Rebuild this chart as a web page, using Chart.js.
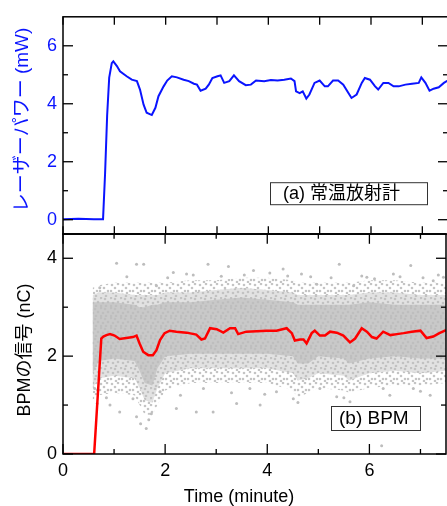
<!DOCTYPE html>
<html>
<head>
<meta charset="utf-8">
<script src="https://cdn.jsdelivr.net/npm/chart.js@4.4.1/dist/chart.umd.min.js"></script>
<style>
html, body { margin: 0; padding: 0; background: #fff; overflow: hidden; width: 447px; height: 506px; }
.panel { position: absolute; left: 0; width: 450px; }
#topPanel { top: 0; height: 251px; }
#botPanel { top: 217px; height: 289px; }
</style>
</head>
<body>
<div class="panel" id="topPanel"><canvas id="laserChart"></canvas></div>
<div class="panel" id="botPanel"><canvas id="bpmChart"></canvas></div>
<script>
// (a) レーザーパワー
const laserT = [0, 0.3, 0.6, 0.78, 0.82, 0.86, 0.9, 0.95, 0.98, 1.05, 1.11, 1.24, 1.34, 1.44, 1.5, 1.57, 1.63, 1.73, 1.8, 1.86, 1.96, 2.03, 2.12, 2.22, 2.35, 2.45, 2.55, 2.61, 2.68, 2.78, 2.84, 2.91, 3.01, 3.07, 3.14, 3.24, 3.33, 3.43, 3.56, 3.66, 3.76, 3.92, 4.05, 4.18, 4.31, 4.44, 4.51, 4.54, 4.61, 4.67, 4.74, 4.8, 4.9, 5.0, 5.1, 5.16, 5.26, 5.36, 5.46, 5.56, 5.62, 5.72, 5.82, 5.88, 5.98, 6.08, 6.14, 6.24, 6.34, 6.44, 6.54, 6.67, 6.8, 6.93, 6.98, 7.06, 7.14, 7.22, 7.32, 7.42, 7.52];
const laserP = [0.02, 0.03, 0.02, 0.02, 1.6, 3.6, 4.9, 5.4, 5.46, 5.3, 5.12, 4.95, 4.83, 4.78, 4.49, 3.97, 3.69, 3.61, 3.86, 4.26, 4.6, 4.8, 4.95, 4.91, 4.83, 4.78, 4.69, 4.66, 4.45, 4.52, 4.66, 4.89, 4.95, 4.98, 4.72, 4.78, 4.98, 4.78, 4.64, 4.66, 4.8, 4.78, 4.82, 4.8, 4.83, 4.87, 4.78, 4.43, 4.37, 4.43, 4.18, 4.32, 4.72, 4.8, 4.6, 4.6, 4.8, 4.8, 4.66, 4.37, 4.2, 4.32, 4.72, 4.89, 4.83, 4.6, 4.49, 4.72, 4.72, 4.6, 4.6, 4.66, 4.69, 4.72, 4.91, 4.72, 4.45, 4.52, 4.57, 4.72, 4.83];

// (b) BPMの信号: 移動平均
const bpmT = [0, 0.3, 0.61, 0.75, 0.79, 0.85, 0.92, 1.01, 1.11, 1.24, 1.37, 1.44, 1.5, 1.57, 1.67, 1.76, 1.83, 1.9, 1.99, 2.09, 2.22, 2.42, 2.61, 2.71, 2.78, 2.88, 3.01, 3.14, 3.27, 3.37, 3.43, 3.59, 3.79, 3.99, 4.18, 4.38, 4.48, 4.54, 4.64, 4.71, 4.77, 4.87, 4.93, 5.03, 5.13, 5.23, 5.36, 5.49, 5.62, 5.72, 5.85, 5.95, 6.05, 6.14, 6.27, 6.41, 6.54, 6.67, 6.83, 7.0, 7.12, 7.25, 7.37, 7.5];
const bpmQ = [0, 0, 0, 2.36, 2.4, 2.43, 2.45, 2.42, 2.35, 2.37, 2.39, 2.42, 2.26, 2.09, 2.02, 2.02, 2.12, 2.33, 2.47, 2.52, 2.5, 2.48, 2.44, 2.34, 2.36, 2.57, 2.55, 2.48, 2.57, 2.57, 2.45, 2.5, 2.51, 2.52, 2.52, 2.57, 2.47, 2.32, 2.34, 2.34, 2.26, 2.47, 2.52, 2.42, 2.42, 2.5, 2.48, 2.42, 2.28, 2.36, 2.57, 2.5, 2.39, 2.36, 2.5, 2.43, 2.45, 2.47, 2.5, 2.52, 2.37, 2.4, 2.47, 2.53];

// (b) 生データの広がり (濃い部分・中間・薄い部分)
const bandT   = [0.58, 0.7, 1.0, 1.4, 1.5, 1.6, 1.75, 1.85, 2.0, 2.5, 3.0, 3.5, 4.0, 4.5, 4.6, 4.8, 5.0, 5.5, 5.6, 6.0, 6.5, 7.0, 7.5];
const coreHi  = [3.1, 3.1, 3.1, 3.05, 3.0, 3.0, 3.05, 3.05, 3.1, 3.1, 3.15, 3.2, 3.15, 3.1, 3.05, 3.05, 3.05, 3.05, 3.05, 3.1, 3.05, 3.05, 3.05];
const coreLo  = [1.65, 1.9, 1.95, 1.9, 1.7, 1.45, 1.4, 1.75, 2.0, 2.05, 2.05, 2.05, 2.05, 2.0, 1.85, 1.85, 2.0, 1.95, 1.85, 1.95, 2.0, 1.95, 1.95];
const midHi   = [3.25, 3.3, 3.3, 3.25, 3.25, 3.25, 3.25, 3.25, 3.3, 3.3, 3.35, 3.4, 3.35, 3.3, 3.25, 3.25, 3.25, 3.25, 3.25, 3.3, 3.3, 3.25, 3.25];
const midLo   = [1.35, 1.55, 1.6, 1.55, 1.35, 1.1, 1.05, 1.35, 1.65, 1.75, 1.75, 1.75, 1.75, 1.65, 1.5, 1.55, 1.65, 1.6, 1.5, 1.65, 1.7, 1.65, 1.7];
const outerHi = [3.4, 3.45, 3.5, 3.5, 3.5, 3.5, 3.5, 3.5, 3.5, 3.55, 3.55, 3.6, 3.6, 3.55, 3.5, 3.5, 3.5, 3.5, 3.5, 3.55, 3.55, 3.5, 3.5];
const outerLo = [1.1, 1.2, 1.25, 1.2, 1.0, 0.8, 0.8, 1.0, 1.3, 1.45, 1.45, 1.45, 1.45, 1.3, 1.15, 1.25, 1.35, 1.3, 1.25, 1.35, 1.4, 1.4, 1.45];
const strayT = [1.05, 1.44, 1.58, 2.84, 5.41, 6.81, 3.24, 2.16, 4.31, 1.63, 1.73, 1.44, 0.92, 2.22, 2.61, 3.4, 3.86, 4.51, 5.36, 6.24, 6.27, 5.62, 7.19, 5.03, 0.62, 0.67, 3.66, 5.95, 7.25, 4.97, 2.42, 3.73, 6.47, 2.94, 1.11, 1.37, 1.9, 6.86, 4.18, 2.75, 7.45, 0.72, 1.83, 4.67, 5.69, 1.25, 2.05, 2.55, 3.1, 3.55, 4.05, 4.4, 4.85, 5.25, 5.85, 6.1, 6.6, 7.05, 7.35, 0.85, 1.52, 1.68, 2.3, 3.3, 3.95, 4.6, 5.5, 6.4, 7.0];
const strayQ = [3.9, 3.88, 3.88, 3.88, 3.88, 3.85, 3.83, 3.71, 3.78, 0.52, 0.82, 0.76, 1.0, 0.93, 0.86, 1.03, 1.0, 1.13, 1.17, 0.17, 1.34, 1.07, 1.2, 1.34, 1.34, 1.03, 1.34, 3.61, 3.54, 3.47, 3.68, 3.75, 3.68, 0.86, 0.86, 1.13, 1.27, 1.34, 1.27, 1.34, 3.61, 3.4, 3.44, 3.68, 3.44, 3.62, 3.6, 3.66, 3.63, 3.66, 3.7, 3.64, 3.62, 3.6, 3.64, 3.58, 3.62, 3.6, 3.66, 1.15, 0.62, 0.7, 1.2, 1.25, 1.22, 1.05, 1.15, 1.2, 1.28];

// 目盛り
const timeTicks = [0, 2, 4, 6];
const timeMinor = [1, 3, 5, 7];
const powerTicks = [0, 2, 4, 6];
const powerMinor = [1, 3, 5];
const chargeTicks = [0, 2, 4];
const chargeMinor = [1, 3];

const FONT = '"Liberation Sans", "Noto Sans CJK JP", sans-serif';
Chart.defaults.font.family = FONT;
Chart.defaults.font.size = 18;
Chart.defaults.color = '#000';

const pts = (xs, ys) => xs.map((x, i) => ({x: x, y: ys[i]}));

// 点描のテクスチャ
function dotPattern(size, bg, dots, color) {
    const c = document.createElement('canvas');
    c.width = c.height = size;
    const g = c.getContext('2d');
    if (bg) { g.fillStyle = bg; g.fillRect(0, 0, size, size); }
    g.fillStyle = color;
    dots.forEach(d => { g.beginPath(); g.arc(d[0], d[1], 1.3, 0, Math.PI * 2); g.fill(); });
    return g.createPattern(c, 'repeat');
}
const denseFill = dotPattern(10, '#c9c9c9', [[1, 1], [5, 2], [8, 5], [3, 6], [6, 9], [1, 9]], '#bebebe');
const midFill = dotPattern(10, '#e2e2e2', [[1, 1], [5, 2], [8, 5], [3, 6], [6, 9]], '#c2c2c2');
const sparseFill = dotPattern(11, null, [[2, 2], [8, 1], [5, 5], [1, 8], [9, 8], [6, 10]], '#c4c4c4');

// 内向きの目盛りと枠、ラベルを描く
const frameTicks = {
    id: 'frameTicks',
    afterDatasetsDraw(chart, args, o) {
        const {ctx, chartArea: a, scales: {x, y}} = chart;
        ctx.save();
        ctx.strokeStyle = '#000';
        ctx.lineWidth = 1.5;
        ctx.strokeRect(a.left, a.top, a.right - a.left, a.bottom - a.top);
        const tick = (px, py, dx, dy) => {
            ctx.beginPath(); ctx.moveTo(px, py); ctx.lineTo(px + dx, py + dy); ctx.stroke();
        };
        ctx.lineWidth = 1.3;
        o.xMajor.forEach(v => { const p = x.getPixelForValue(v); tick(p, a.bottom, 0, -o.xMajorLen); tick(p, a.top, 0, o.xMajorLen); });
        o.xMinor.forEach(v => { const p = x.getPixelForValue(v); tick(p, a.bottom, 0, -o.xMinorLen); tick(p, a.top, 0, o.xMinorLen); });
        o.yMajor.forEach(v => { const p = y.getPixelForValue(v); tick(a.left, p, 10, 0); tick(a.right, p, -10, 0); });
        o.yMinor.forEach(v => { const p = y.getPixelForValue(v); tick(a.left, p, 5, 0); tick(a.right, p, -5, 0); });

        // 凡例ボックス
        const b = o.tag;
        ctx.lineWidth = 1;
        ctx.fillStyle = '#fff';
        const bx = a.right - b.right - b.w, by = a.bottom - b.bottom - b.h;
        ctx.fillRect(bx, by, b.w, b.h);
        ctx.strokeStyle = '#333';
        ctx.strokeRect(bx + 0.5, by + 0.5, b.w, b.h);
        ctx.fillStyle = '#000';
        ctx.font = b.size + 'px ' + FONT;
        ctx.textBaseline = 'middle';
        ctx.textAlign = 'left';
        ctx.fillText(b.text, bx + b.pad, by + b.h / 2 + 1);

        // 軸タイトル
        ctx.save();
        ctx.fillStyle = o.yTitleColor;
        ctx.font = o.yTitleSize + 'px ' + FONT;
        ctx.textAlign = 'center';
        ctx.translate(o.yTitleX, o.yTitleY);
        ctx.rotate(-Math.PI / 2);
        ctx.fillText(o.yTitle, 0, 0);
        ctx.restore();
        if (o.xTitle) {
            ctx.font = '18px ' + FONT;
            ctx.textAlign = 'center';
            ctx.fillText(o.xTitle, o.xTitleX, o.xTitleY);
        }
        ctx.restore();
    }
};

const fixTicks = list => s => { s.ticks = list.map(v => ({value: v})); };

new Chart($id('laserChart'), {
    type: 'line',
    data: {
        datasets: [{
            data: pts(laserT, laserP),
            borderColor: '#0a14ff',
            borderWidth: 2,
            pointRadius: 0
        }]
    },
    options: {
        animation: false,
        responsive: true,
        maintainAspectRatio: false,
        events: [],
        layout: {padding: {top: 15, right: 2, bottom: 12, left: 0}},
        plugins: {
            legend: {display: false},
            tooltip: {enabled: false},
            frameTicks: {
                xMajor: timeTicks, xMinor: timeMinor, xMajorLen: 8, xMinorLen: 8,
                yMajor: powerTicks, yMinor: powerMinor,
                tag: {text: '(a) 常温放射計', right: 21, bottom: 30, w: 157, h: 22, pad: 13, size: 18},
                yTitle: 'レーザーパワー (mW)', yTitleColor: '#0a14ff', yTitleSize: 19, yTitleX: 23, yTitleY: 120
            }
        },
        scales: {
            x: {
                type: 'linear', min: 0, max: 7.5,
                grid: {display: false, drawTicks: false}, border: {display: false},
                ticks: {display: false},
                afterBuildTicks: fixTicks(timeTicks),
                afterFit: s => { s.height = 0; }
            },
            y: {
                min: -0.5, max: 7,
                grid: {display: false, drawTicks: false}, border: {display: false},
                ticks: {color: '#0a14ff', padding: 6},
                afterBuildTicks: fixTicks(powerTicks),
                afterFit: s => { s.width = 63; }
            }
        }
    },
    plugins: [frameTicks]
});

new Chart($id('bpmChart'), {
    type: 'line',
    data: {
        datasets: [
            {data: pts(bpmT, bpmQ), borderColor: '#ff0000', borderWidth: 2.5, pointRadius: 0, order: 0},
            {data: pts(strayT, strayQ), showLine: false, pointRadius: 1.5, pointBorderWidth: 0, pointBackgroundColor: '#bdbdbd', order: 1},
            {data: pts(bandT, coreHi), borderWidth: 0, pointRadius: 0, fill: '+1', backgroundColor: denseFill, order: 2},
            {data: pts(bandT, coreLo), borderWidth: 0, pointRadius: 0, fill: false, order: 2},
            {data: pts(bandT, midHi), borderWidth: 0, pointRadius: 0, fill: '+1', backgroundColor: midFill, order: 3},
            {data: pts(bandT, midLo), borderWidth: 0, pointRadius: 0, fill: false, order: 3},
            {data: pts(bandT, outerHi), borderWidth: 0, pointRadius: 0, fill: '+1', backgroundColor: sparseFill, order: 4},
            {data: pts(bandT, outerLo), borderWidth: 0, pointRadius: 0, fill: false, order: 4}
        ]
    },
    options: {
        animation: false,
        responsive: true,
        maintainAspectRatio: false,
        events: [],
        layout: {padding: {top: 8, right: 2, bottom: 0, left: 0}},
        plugins: {
            legend: {display: false},
            tooltip: {enabled: false},
            frameTicks: {
                xMajor: timeTicks, xMinor: timeMinor, xMajorLen: 10, xMinorLen: 5,
                yMajor: chargeTicks, yMinor: chargeMinor,
                tag: {text: '(b) BPM', right: 26, bottom: 24, w: 89, h: 24, pad: 8, size: 19},
                yTitle: 'BPMの信号 (nC)', yTitleColor: '#000', yTitleSize: 18, yTitleX: 25, yTitleY: 133,
                xTitle: 'Time (minute)', xTitleX: 239, xTitleY: 280
            }
        },
        scales: {
            x: {
                type: 'linear', min: 0, max: 7.5,
                grid: {display: false, drawTicks: false}, border: {display: false},
                ticks: {padding: 6, maxRotation: 0},
                afterBuildTicks: fixTicks(timeTicks),
                afterFit: s => { s.height = 52; }
            },
            y: {
                min: 0, max: 4.5,
                grid: {display: false, drawTicks: false}, border: {display: false},
                ticks: {padding: 6},
                afterBuildTicks: fixTicks(chargeTicks),
                afterFit: s => { s.width = 63; }
            }
        }
    },
    plugins: [frameTicks]
});

function $id(id) { return document.getElementById(id); }
</script>
</body>
</html>
